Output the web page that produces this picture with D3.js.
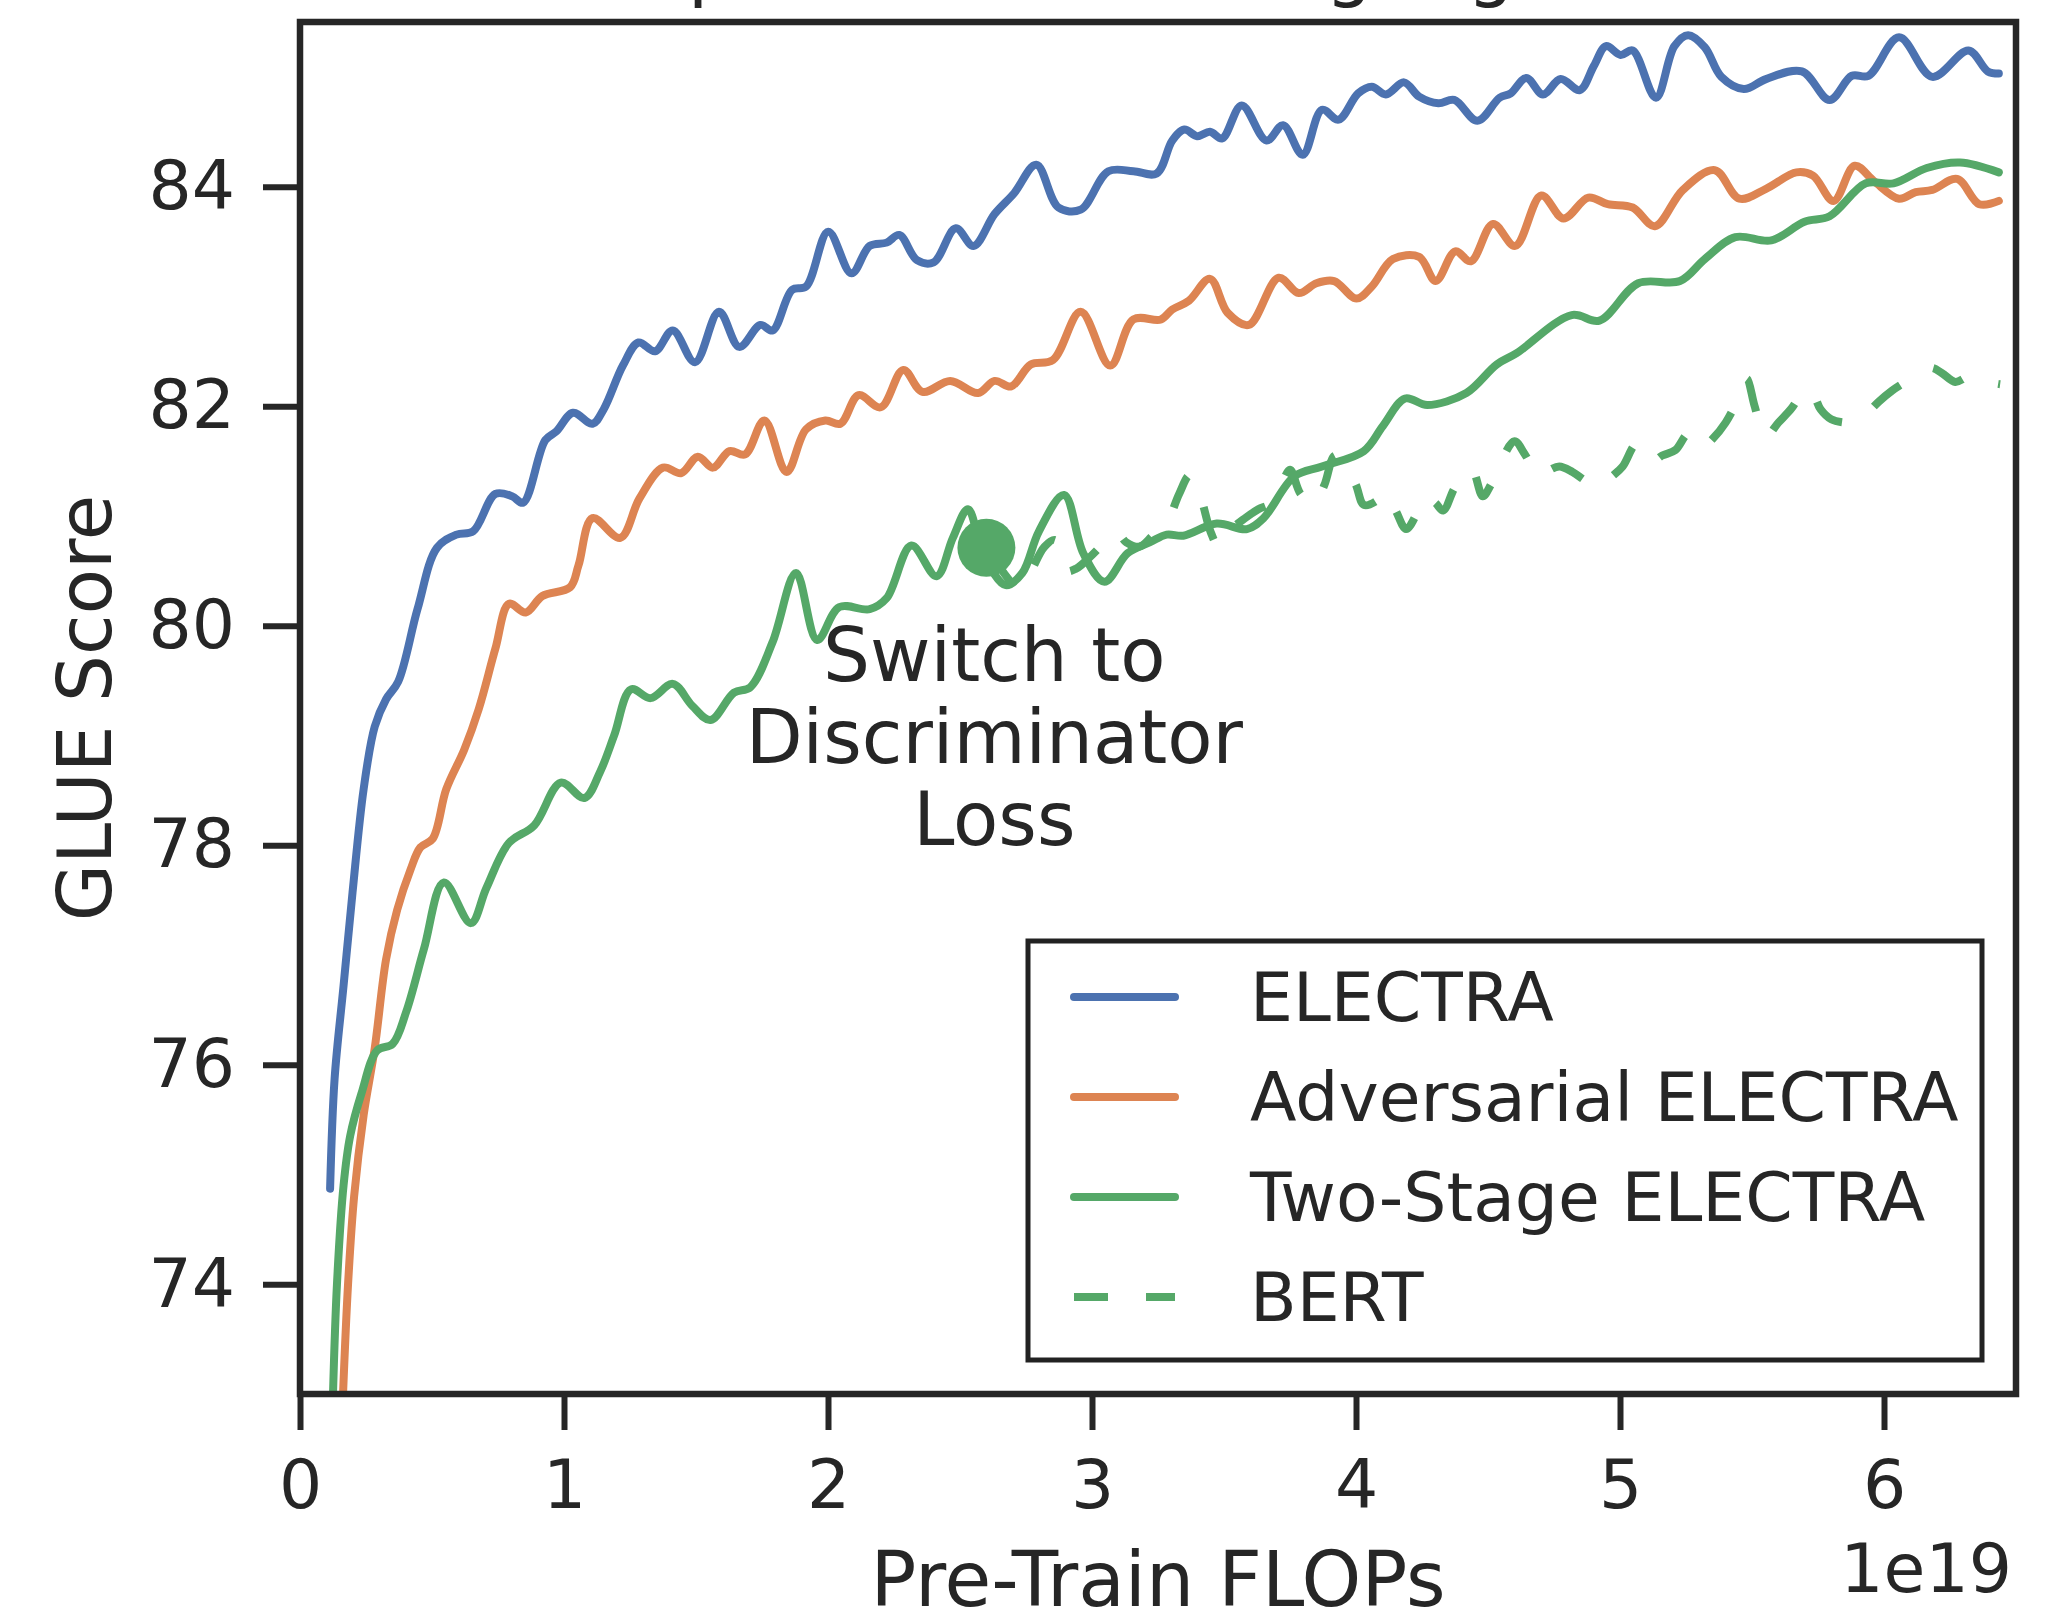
<!DOCTYPE html>
<html>
<head>
<meta charset="utf-8">
<script src="https://cdn.jsdelivr.net/npm/d3@7"></script>
<style>
body { margin: 0; background: #fff; }
text { font-family: "DejaVu Sans", sans-serif; fill: #262626; }
</style>
</head>
<body>
<svg id="chart" width="2054" height="1619"></svg>
<script>
// [pre-train FLOPs (x1e19), GLUE score]
var electra = [[0.114,74.87],[0.131,75.87],[0.165,76.72],[0.199,77.57],[0.241,78.51],[0.283,79.08],[0.326,79.33],[0.372,79.49],[0.445,80.15],[0.519,80.71],[0.593,80.83],[0.656,80.86],[0.740,81.20],[0.803,81.18],[0.845,81.12],[0.929,81.69],[0.971,81.77],[1.034,81.94],[1.108,81.84],[1.150,81.97],[1.223,82.37],[1.282,82.58],[1.345,82.50],[1.412,82.69],[1.496,82.40],[1.587,82.86],[1.664,82.54],[1.744,82.74],[1.790,82.69],[1.864,83.06],[1.917,83.09],[2.001,83.59],[2.089,83.21],[2.158,83.46],[2.222,83.49],[2.270,83.56],[2.337,83.33],[2.400,83.31],[2.484,83.62],[2.551,83.46],[2.631,83.75],[2.705,83.94],[2.789,84.20],[2.873,83.81],[2.957,83.79],[3.062,84.14],[3.157,84.14],[3.245,84.12],[3.304,84.42],[3.350,84.52],[3.398,84.46],[3.447,84.50],[3.493,84.44],[3.567,84.74],[3.661,84.42],[3.724,84.56],[3.798,84.29],[3.871,84.70],[3.934,84.61],[4.008,84.85],[4.060,84.91],[4.113,84.84],[4.182,84.95],[4.239,84.82],[4.312,84.76],[4.372,84.79],[4.460,84.60],[4.544,84.81],[4.586,84.85],[4.645,84.99],[4.708,84.84],[4.775,84.98],[4.848,84.88],[4.901,85.10],[4.947,85.28],[5.002,85.20],[5.048,85.24],[5.136,84.81],[5.206,85.28],[5.258,85.38],[5.321,85.27],[5.384,85.00],[5.469,84.89],[5.553,84.98],[5.689,85.05],[5.794,84.79],[5.878,85.01],[5.941,85.01],[6.057,85.36],[6.183,85.00],[6.320,85.24],[6.393,85.05],[6.435,85.03]];

var adversarial = [[0.163,73.0],[0.182,74.0],[0.205,74.8],[0.241,75.54],[0.283,76.15],[0.326,76.96],[0.368,77.41],[0.419,77.78],[0.456,77.98],[0.503,78.06],[0.554,78.51],[0.622,78.87],[0.677,79.24],[0.740,79.79],[0.792,80.20],[0.855,80.12],[0.918,80.27],[1.023,80.35],[1.055,80.55],[1.108,80.98],[1.213,80.80],[1.286,81.16],[1.375,81.44],[1.444,81.39],[1.507,81.54],[1.564,81.44],[1.627,81.59],[1.686,81.56],[1.759,81.87],[1.843,81.40],[1.917,81.79],[1.990,81.87],[2.047,81.84],[2.116,82.10],[2.200,81.99],[2.285,82.33],[2.358,82.13],[2.463,82.23],[2.568,82.12],[2.631,82.23],[2.694,82.18],[2.768,82.38],[2.852,82.42],[2.957,82.86],[3.069,82.37],[3.157,82.79],[3.261,82.79],[3.304,82.88],[3.367,82.96],[3.447,83.16],[3.514,82.85],[3.594,82.74],[3.707,83.17],[3.783,83.03],[3.850,83.12],[3.917,83.14],[4.002,82.98],[4.060,83.09],[4.140,83.34],[4.239,83.36],[4.302,83.14],[4.376,83.41],[4.435,83.32],[4.519,83.66],[4.603,83.46],[4.702,83.92],[4.786,83.71],[4.880,83.90],[4.954,83.84],[5.048,83.81],[5.132,83.64],[5.238,83.97],[5.359,84.15],[5.452,83.89],[5.553,83.98],[5.668,84.13],[5.731,84.10],[5.809,83.87],[5.889,84.19],[5.962,84.05],[6.057,83.89],[6.120,83.95],[6.183,83.97],[6.277,84.07],[6.361,83.84],[6.435,83.87]];

var twoStage = [[0.125,73.0],[0.140,74.0],[0.165,74.9],[0.190,75.35],[0.233,75.74],[0.292,76.13],[0.351,76.19],[0.402,76.48],[0.469,77.05],[0.545,77.66],[0.647,77.29],[0.706,77.61],[0.791,78.02],[0.887,78.18],[0.988,78.57],[1.077,78.43],[1.137,78.67],[1.190,79.00],[1.254,79.42],[1.328,79.34],[1.412,79.47],[1.486,79.27],[1.555,79.14],[1.644,79.39],[1.706,79.44],[1.790,79.85],[1.879,80.48],[1.959,79.87],[2.043,80.17],[2.158,80.15],[2.222,80.25],[2.316,80.73],[2.411,80.45],[2.473,80.80],[2.530,81.06],[2.589,80.65],[2.673,80.37],[2.736,80.48],[2.799,80.86],[2.894,81.19],[2.967,80.66],[3.047,80.40],[3.135,80.66],[3.220,80.76],[3.283,80.83],[3.346,80.82],[3.472,80.93],[3.587,80.88],[3.650,80.98],[3.766,81.36],[3.871,81.45],[4.029,81.59],[4.102,81.82],[4.186,82.07],[4.270,82.01],[4.418,82.12],[4.533,82.38],[4.607,82.48],[4.817,82.83],[4.922,82.78],[5.069,83.12],[5.227,83.14],[5.321,83.34],[5.437,83.54],[5.573,83.51],[5.699,83.68],[5.794,83.73],[5.931,84.03],[6.036,84.03],[6.162,84.17],[6.288,84.22],[6.435,84.13]];

var bert = [[2.63,80.62],[2.66,80.50],[2.70,80.38],[2.73,80.32],[2.77,80.50],[2.82,80.72],[2.86,80.78],[2.90,80.50],[2.94,80.52],[2.99,80.62],[3.04,80.74],[3.09,80.86],[3.13,80.76],[3.18,80.72],[3.23,80.82],[3.28,80.92],[3.33,81.20],[3.37,81.37],[3.41,81.18],[3.45,80.85],[3.48,80.72],[3.52,80.86],[3.58,80.98],[3.63,81.06],[3.68,81.12],[3.72,81.30],[3.75,81.42],[3.79,81.20],[3.84,81.10],[3.88,81.28],[3.92,81.55],[3.96,81.48],[4.00,81.28],[4.03,81.10],[4.08,81.14],[4.11,81.22],[4.15,81.05],[4.19,80.88],[4.23,81.02],[4.26,81.18],[4.30,81.12],[4.33,81.05],[4.37,81.24],[4.41,81.40],[4.44,81.42],[4.48,81.18],[4.51,81.28],[4.55,81.50],[4.60,81.68],[4.64,81.56],[4.69,81.36],[4.72,81.40],[4.77,81.45],[4.82,81.40],[4.87,81.32],[4.92,81.26],[4.97,81.36],[5.01,81.45],[5.06,81.65],[5.09,81.58],[5.12,81.49],[5.16,81.55],[5.21,81.60],[5.26,81.75],[5.31,81.62],[5.35,81.70],[5.40,81.85],[5.45,82.08],[5.48,82.25],[5.51,82.00],[5.55,81.72],[5.60,81.85],[5.65,81.98],[5.69,82.12],[5.72,82.16],[5.76,81.97],[5.80,81.88],[5.85,81.85],[5.89,81.85],[5.93,81.92],[5.98,82.04],[6.03,82.14],[6.08,82.22],[6.13,82.30],[6.18,82.35],[6.22,82.30],[6.27,82.22],[6.31,82.26],[6.35,82.28],[6.40,82.22],[6.44,82.20]];

var switchPoint = [2.60, 80.71];
var xTicks = [0, 1, 2, 3, 4, 5, 6];
var yTicks = [74, 76, 78, 80, 82, 84];
var seriesNames = ["ELECTRA", "Adversarial ELECTRA", "Two-Stage ELECTRA", "BERT"];
var seriesColors = ["#4c72b0", "#dd8452", "#55a868", "#55a868"];
var seriesDash = [null, null, null, "34,38"];
var annotationLines = ["Switch to", "Discriminator", "Loss"];

var margin = {left: 300, top: 22, right: 38, bottom: 225};
var width = 2054 - margin.left - margin.right;
var height = 1619 - margin.top - margin.bottom;
var lineWidth = 8;

var svg = d3.select("#chart");
var g = svg.append("g")
    .attr("transform", "translate(" + margin.left + "," + margin.top + ")");

var xScale = d3.scaleLinear().domain([0, 6.5]).range([0, width]);
var yScale = d3.scaleLinear().domain([73, 85.5]).range([height, 0]);

// title sits above the crop, only its descenders show
svg.append("text")
    .attr("x", margin.left + width / 2)
    .attr("y", -8)
    .attr("text-anchor", "middle")
    .style("font-size", "74px")
    .text("Comparison of Training Algorithms");

g.append("clipPath").attr("id", "plotClip")
    .append("rect").attr("width", width).attr("height", height);

var line = d3.line()
    .x(function(d) { return xScale(d[0]); })
    .y(function(d) { return yScale(d[1]); })
    .curve(d3.curveCatmullRom.alpha(0.5));

var allSeries = [electra, adversarial, twoStage, bert];
var lines = g.append("g").attr("clip-path", "url(#plotClip)");

lines.selectAll("path")
    .data(allSeries)
    .enter()
    .append("path")
    .attr("d", line)
    .attr("fill", "none")
    .attr("stroke", function(d, i) { return seriesColors[i]; })
    .attr("stroke-width", lineWidth)
    .attr("stroke-linecap", function(d, i) { return seriesDash[i] ? "butt" : "round"; })
    .attr("stroke-linejoin", "round")
    .attr("stroke-dasharray", function(d, i) { return seriesDash[i]; });

g.append("circle")
    .attr("cx", xScale(switchPoint[0]))
    .attr("cy", yScale(switchPoint[1]))
    .attr("r", 29)
    .attr("fill", "#55a868");

g.append("text")
    .attr("x", xScale(2.63))
    .attr("y", yScale(79.5))
    .attr("text-anchor", "middle")
    .style("font-size", "74px")
    .selectAll("tspan")
    .data(annotationLines)
    .enter()
    .append("tspan")
    .attr("x", xScale(2.63))
    .attr("dy", function(d, i) { return i == 0 ? 0 : 82; })
    .text(function(d) { return d; });

// axes
var xAxis = d3.axisBottom(xScale).tickValues(xTicks).tickFormat(d3.format("d"))
    .tickSize(36).tickPadding(30);
var yAxis = d3.axisLeft(yScale).tickValues(yTicks).tickFormat(d3.format("d"))
    .tickSize(37).tickPadding(28);

var xg = g.append("g").attr("transform", "translate(0," + height + ")").call(xAxis);
var yg = g.append("g").call(yAxis);

[xg, yg].forEach(function(ax) {
    ax.select(".domain").remove();
    ax.selectAll(".tick line").attr("stroke", "#262626").attr("stroke-width", 6);
    ax.selectAll(".tick text")
        .style("font-size", "68px")
        .style("font-family", "DejaVu Sans, sans-serif")
        .attr("fill", "#262626");
});

g.append("rect")
    .attr("width", width)
    .attr("height", height)
    .attr("fill", "none")
    .attr("stroke", "#262626")
    .attr("stroke-width", 6.5);

g.append("text")
    .attr("x", width / 2)
    .attr("y", 1606 - margin.top)
    .attr("text-anchor", "middle")
    .style("font-size", "76px")
    .text("Pre-Train FLOPs");

g.append("text")
    .attr("x", width - 4)
    .attr("y", 1592 - margin.top)
    .attr("text-anchor", "end")
    .style("font-size", "68px")
    .text("1e19");

svg.append("text")
    .attr("transform", "translate(111," + (margin.top + height / 2) + ") rotate(-90)")
    .attr("text-anchor", "middle")
    .style("font-size", "74px")
    .text("GLUE Score");

// legend
var legend = svg.append("g").attr("transform", "translate(1028,941)");
legend.append("rect")
    .attr("width", 954)
    .attr("height", 419)
    .attr("fill", "#fff")
    .attr("stroke", "#222")
    .attr("stroke-width", 5);

var items = legend.selectAll(".item")
    .data(seriesNames)
    .enter()
    .append("g")
    .attr("transform", function(d, i) { return "translate(0," + (56 + i * 100) + ")"; });

items.append("line")
    .attr("x1", 46).attr("x2", 147)
    .attr("stroke", function(d, i) { return seriesColors[i]; })
    .attr("stroke-width", lineWidth)
    .attr("stroke-linecap", function(d, i) { return seriesDash[i] ? "butt" : "round"; })
    .attr("stroke-dasharray", function(d, i) { return seriesDash[i]; });

items.append("text")
    .attr("x", 222)
    .attr("dy", "0.35em")
    .style("font-size", "68px")
    .text(function(d) { return d; });
</script>
</body>
</html>
